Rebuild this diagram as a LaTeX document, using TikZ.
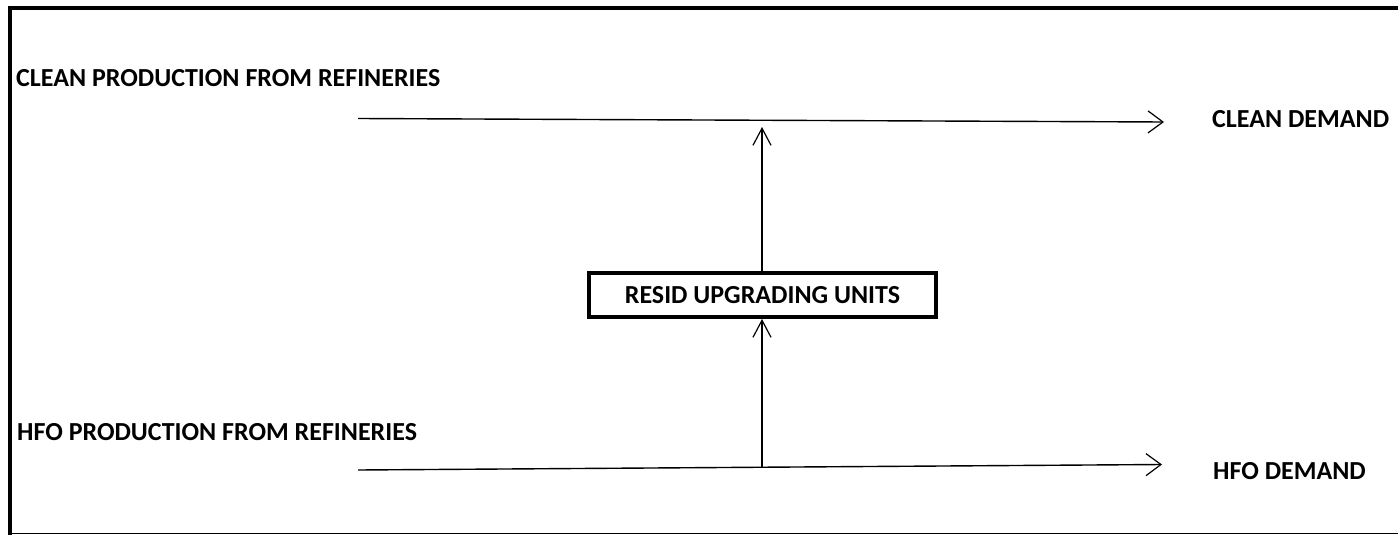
\documentclass[tikz,border=0pt]{standalone}
\usepackage{fontspec}
\setmainfont{Carlito}
\usetikzlibrary{arrows.meta}
\begin{document}
\begin{tikzpicture}[x=1pt,y=-1pt,
  lbl/.style={font=\bfseries\fontsize{26}{30}\selectfont, inner sep=0pt, anchor=base west},
  flow/.style={line width=1.4pt, -{Straight Barb[length=15pt,width=22pt,line width=1.2pt]}},
  feed/.style={line width=1.4pt, -{Straight Barb[length=17pt,width=18pt,line width=1.2pt]}},
  unit/.style={draw, line width=4pt, minimum width=347pt, minimum height=44pt, inner sep=0pt,
    font=\bfseries\fontsize{26}{30}\selectfont}]
\useasboundingbox (0,0) rectangle (1398,535);
% outer frame (only top, left and bottom edges are visible)
\draw[line width=4pt] (1398,8.5) -- (9.5,8.5) -- (9.5,535);
\draw[line width=1.5pt] (9.5,533.5) -- (1398,533.5);

% labels
\node[lbl] (cleanprod) at (16,87) {CLEAN PRODUCTION FROM REFINERIES};
\node[lbl] (hfoprod) at (17,440) {HFO PRODUCTION FROM REFINERIES};
\node[lbl] (cleandem) at (1212,128) {CLEAN DEMAND};
\node[lbl] (hfodem) at (1213,479) {HFO DEMAND};

% upgrading unit
\node[unit] (resid) at (762.5,295) {RESID UPGRADING UNITS};

% flow lines
\coordinate (cs) at (358,118.5);
\coordinate (ce) at (1164,122);
\coordinate (hs) at (358,470);
\coordinate (he) at (1162,464.5);
\coordinate (cj) at (762,127);
\coordinate (hj) at (762,466.5);
\draw[flow] (cs) -- (ce);
\draw[flow] (hs) -- (he);
\draw[feed] (resid.north -| cj) -- (cj);
\draw[feed] (hj) -- (resid.south -| hj);
\end{tikzpicture}
\end{document}
